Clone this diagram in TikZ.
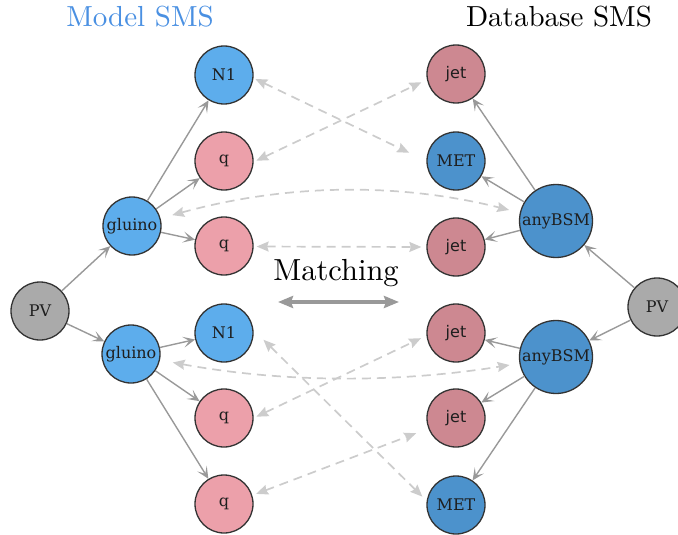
\documentclass[tikz,border=0pt]{standalone}
\usepackage{fontspec}
\newfontfamily\labelserif{DejaVu Serif}
\newfontfamily\labelsans{DejaVu Sans}
\newfontfamily\headfont{lmroman10-regular.otf}
\usetikzlibrary{arrows.meta}

\definecolor{modelblue}{RGB}{93,173,236}
\definecolor{dbblue}{RGB}{76,146,204}
\definecolor{quarkpink}{RGB}{236,160,170}
\definecolor{jetpink}{RGB}{205,136,145}
\definecolor{vertexgray}{RGB}{170,170,170}
\definecolor{outline}{RGB}{51,51,51}
\definecolor{labeltext}{RGB}{30,30,30}
\definecolor{edgegray}{RGB}{153,153,153}
\definecolor{dashgray}{RGB}{204,204,204}
\definecolor{titleblue}{RGB}{74,144,226}

\begin{document}
\begin{tikzpicture}[x=1pt,y=-1pt,
  particle/.style={circle, draw=outline, line width=1.3pt, minimum size=58pt,
    inner sep=0pt, text=labeltext, font={\labelserif\fontsize{16}{18}\selectfont}},
  bigparticle/.style={particle, minimum size=73pt},
  sanslabel/.style={font={\labelsans\fontsize{16}{18}\selectfont}},
  flow/.style={draw=edgegray, line width=1.4pt,
    -{Stealth[length=12pt,width=11pt,inset=6pt]}},
  match/.style={draw=dashgray, line width=1.7pt, dash pattern=on 9pt off 6pt,
    {Stealth[length=12pt,width=10pt,inset=1.5pt]}-{Stealth[length=12pt,width=10pt,inset=1.5pt]}},
  title/.style={anchor=base, inner sep=0pt, font={\headfont\fontsize{29}{34}\selectfont}}
]
\useasboundingbox (0,0) rectangle (678,535);

% titles
\node[title, text=titleblue] (modeltitle) at (140,27) {Model SMS};
\node[title, text=black] (dbtitle) at (559,27) {Database SMS};

% model SMS (left)
\node[particle, fill=vertexgray] (pvL) at (40,311) {PV};
\node[particle, fill=modelblue] (gluA) at (132,226) {gluino};
\node[particle, fill=modelblue] (gluB) at (131,354) {gluino};
\node[particle, fill=modelblue] (n1A) at (224,75) {N1};
\node[particle, fill=quarkpink] (qA) at (224,161) {q};
\node[particle, fill=quarkpink] (qB) at (224,246) {q};
\node[particle, fill=modelblue] (n1B) at (224,333) {N1};
\node[particle, fill=quarkpink] (qC) at (224,418) {q};
\node[particle, fill=quarkpink] (qD) at (224,504) {q};

% database SMS (right)
\node[particle, fill=vertexgray] (pvR) at (657,307) {PV};
\node[bigparticle, fill=dbblue] (bsmA) at (556,221) {anyBSM};
\node[bigparticle, fill=dbblue] (bsmB) at (556,357) {anyBSM};
\node[particle, sanslabel, fill=jetpink] (jetA) at (456,74) {jet};
\node[particle, fill=dbblue] (metA) at (456,161) {MET};
\node[particle, sanslabel, fill=jetpink] (jetB) at (456,247) {jet};
\node[particle, sanslabel, fill=jetpink] (jetC) at (456,333) {jet};
\node[particle, sanslabel, fill=jetpink] (jetD) at (456,418) {jet};
\node[particle, fill=dbblue] (metB) at (456,505) {MET};

% decays
\draw[flow] (pvL) -- (gluA);
\draw[flow] (pvL) -- (gluB);
\draw[flow] (gluA) -- (n1A);
\draw[flow] (gluA) -- (qA);
\draw[flow] (gluA) -- (qB);
\draw[flow] (gluB) -- (n1B);
\draw[flow] (gluB) -- (qC);
\draw[flow] (gluB) -- (qD);
\draw[flow] (pvR) -- (bsmA);
\draw[flow] (pvR) -- (bsmB);
\draw[flow] (bsmA) -- (jetA);
\draw[flow] (bsmA) -- (metA);
\draw[flow] (bsmA) -- (jetB);
\draw[flow] (bsmB) -- (jetC);
\draw[flow] (bsmB) -- (jetD);
\draw[flow] (bsmB) -- (metB);

% matched pairs
\draw[match, shorten <=2pt, shorten >=19pt] (n1A.-6) -- (metA.180);
\draw[match, shorten <=3pt, shorten >=6pt] (qA.-2) -- (jetA.191);
\draw[match, shorten <=12pt, shorten >=11pt] (gluA.15) .. controls (285,184) and (397,182) .. (bsmA.167);
\draw[match, shorten <=3pt, shorten >=5pt] (qB.-1) -- (jetB.180);
\draw[match, shorten <=13pt, shorten >=10pt] (gluB.-12) .. controls (285,383) and (397,383) .. (bsmB.190);
\draw[match, shorten <=3pt, shorten >=6pt] (qC.0) -- (jetC.185);
\draw[match, shorten <=14pt, shorten >=6pt] (n1B.6) -- (metB.172);
\draw[match, shorten <=4pt, shorten >=13pt] (qD.17) -- (jetD.201);

% matching label and arrow
\node[anchor=base, inner sep=0pt, font={\headfont\fontsize{30.5}{36}\selectfont}] (matchlabel) at (336,280) {Matching};
\coordinate (matchL) at (278,302);
\coordinate (matchR) at (399,302);
\draw[draw=edgegray, line width=3.5pt,
  {Stealth[length=15pt,width=12pt,inset=2pt]}-{Stealth[length=15pt,width=12pt,inset=2pt]}] (matchL) -- (matchR);
\end{tikzpicture}
\end{document}
